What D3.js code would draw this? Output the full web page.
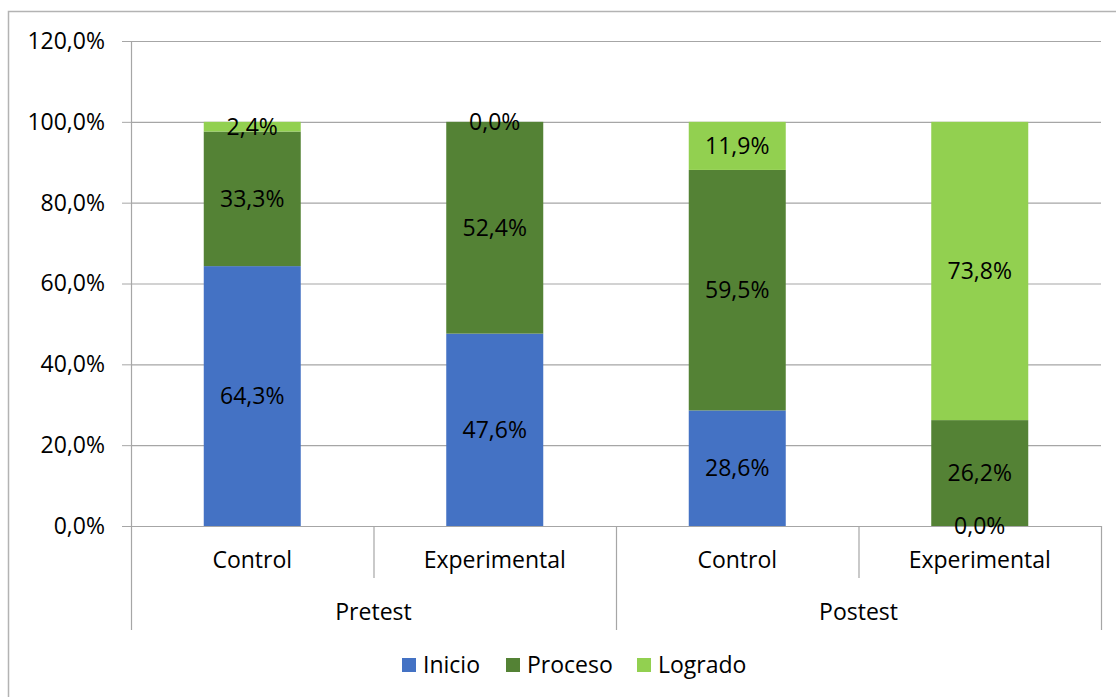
<!DOCTYPE html>
<html>
<head>
<meta charset="utf-8">
<script src="https://cdn.jsdelivr.net/npm/d3@7"></script>
<style>
  body { margin: 0; background: #fff; }
  text { font-family: "Open Sans", Lato, sans-serif; fill: #000; }
</style>
</head>
<body>
<div id="chart"></div>
<script>
// data
var groups = ["Pretest", "Pretest", "Postest", "Postest"];
var categories = ["Control", "Experimental", "Control", "Experimental"];
var seriesNames = ["Inicio", "Proceso", "Logrado"];
var inicio = [64.3, 47.6, 28.6, 0.0];
var proceso = [33.3, 52.4, 59.5, 26.2];
var logrado = [2.4, 0.0, 11.9, 73.8];
var yTicks = [0, 20, 40, 60, 80, 100, 120];
var colors = ["#4472C4", "#548235", "#92D050"];

var W = 1116, H = 697;
var margin = {top: 41, right: 15, bottom: 171, left: 131},
  width = W - margin.left - margin.right,
  height = H - margin.top - margin.bottom;
var fontSize = "23px";

var svg = d3.select("#chart")
  .append("svg")
    .attr("width", W)
    .attr("height", H);

// outer frame
svg.append("rect")
  .attr("x", 8.5).attr("y", 11.5)
  .attr("width", W).attr("height", H)
  .attr("fill", "none")
  .attr("stroke", "#b3b3b3")
  .attr("stroke-width", 1.5);

var g = svg.append("g")
  .attr("transform", "translate(" + margin.left + "," + margin.top + ")");

var x = d3.scaleBand()
  .domain(d3.range(categories.length))
  .range([0, width])
  .paddingInner(0.6)
  .paddingOuter(0.3);

var y = d3.scaleLinear().domain([0, 120]).range([height, 0]);

// y axis ticks + labels
var yAxis = g.append("g")
  .call(d3.axisLeft(y)
    .tickValues(yTicks)
    .tickSize(9)
    .tickFormat(function(d) { return d.toFixed(1).replace(".", ",") + "%"; }));
yAxis.select(".domain").remove();
yAxis.selectAll(".tick line").attr("stroke", "#a6a6a6");
yAxis.selectAll(".tick text")
  .attr("x", -26)
  .style("font-size", fontSize);

// gridlines
g.append("g")
  .selectAll("line")
  .data(yTicks.filter(function(d) { return d > 0; }))
  .enter().append("line")
    .attr("x1", 0).attr("x2", width)
    .attr("y1", function(d) { return y(d) + 0.5; })
    .attr("y2", function(d) { return y(d) + 0.5; })
    .attr("stroke", "#a6a6a6")
    .attr("stroke-width", 1.2);

// y axis line
g.append("line")
  .attr("x1", 0.5).attr("x2", 0.5)
  .attr("y1", 0).attr("y2", height)
  .attr("stroke", "#a6a6a6").attr("stroke-width", 1.2);

// stack
var rows = categories.map(function(c, i) {
  return {Inicio: inicio[i], Proceso: proceso[i], Logrado: logrado[i], i: i};
});
var stacked = d3.stack().keys(seriesNames)(rows);

var layers = g.selectAll(".layer")
  .data(stacked)
  .enter().append("g")
    .attr("class", "layer")
    .attr("fill", function(d, i) { return colors[i]; });

layers.selectAll("rect")
  .data(function(d) { return d; })
  .enter().append("rect")
    .attr("x", function(d) { return x(d.data.i); })
    .attr("width", x.bandwidth())
    .attr("y", function(d) { return y(d[1]); })
    .attr("height", function(d) { return y(d[0]) - y(d[1]); });

// category axis (baseline + ticks)
g.append("line")
  .attr("x1", 0).attr("x2", width)
  .attr("y1", height + 0.5).attr("y2", height + 0.5)
  .attr("stroke", "#a6a6a6").attr("stroke-width", 1.2);

var step = x.step();
d3.range(categories.length + 1).forEach(function(k) {
  var long = (k % 2 === 0);
  g.append("line")
    .attr("x1", k * step + 0.5).attr("x2", k * step + 0.5)
    .attr("y1", height).attr("y2", height + (long ? 104 : 52))
    .attr("stroke", "#a6a6a6").attr("stroke-width", 1.2);
});

// data labels
var fmt = function(v) { return v.toFixed(1).replace(".", ",") + "%"; };
stacked.forEach(function(layer) {
  g.append("g").selectAll("text")
    .data(layer)
    .enter().append("text")
      .attr("x", function(d) { return x(d.data.i) + x.bandwidth() / 2; })
      .attr("y", function(d) { return (y(d[0]) + y(d[1])) / 2; })
      .attr("dy", "0.35em")
      .attr("text-anchor", "middle")
      .style("font-size", fontSize)
      .text(function(d) { return fmt(d[1] - d[0]); });
});

// category labels
g.append("g").selectAll("text")
  .data(categories)
  .enter().append("text")
    .attr("x", function(d, i) { return (i + 0.5) * step; })
    .attr("y", height + 34)
    .attr("dy", "0.35em")
    .attr("text-anchor", "middle")
    .style("font-size", fontSize)
    .text(function(d) { return d; });

// group labels
var groupNames = groups.filter(function(d, i) { return groups.indexOf(d) === i; });
g.append("g").selectAll("text")
  .data(groupNames)
  .enter().append("text")
    .attr("x", function(d, i) { return (i * 2 + 1) * step; })
    .attr("y", height + 86)
    .attr("dy", "0.35em")
    .attr("text-anchor", "middle")
    .style("font-size", fontSize)
    .text(function(d) { return d; });

// legend
var legendX = [402, 506, 637];
var legend = svg.append("g");
seriesNames.forEach(function(s, i) {
  legend.append("rect")
    .attr("x", legendX[i]).attr("y", 658)
    .attr("width", 14).attr("height", 14)
    .attr("fill", colors[i]);
  legend.append("text")
    .attr("x", legendX[i] + 21).attr("y", 665)
    .attr("dy", "0.35em")
    .style("font-size", fontSize)
    .text(s);
});
</script>
</body>
</html>
